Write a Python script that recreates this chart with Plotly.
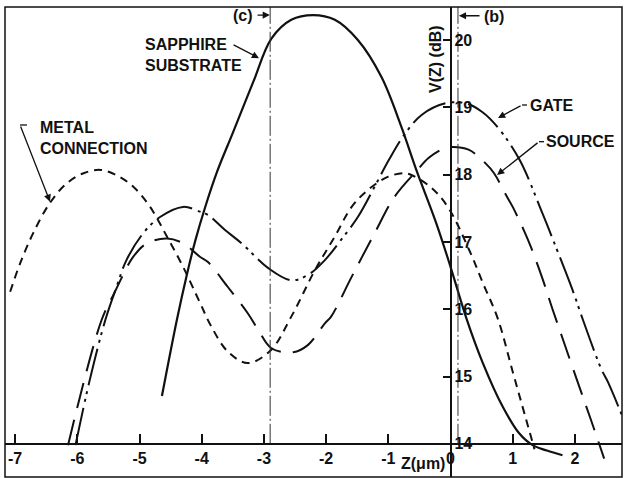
import plotly.graph_objects as go

# ---------------- data ----------------
sapphire_z = [-4.64, -4.40, -4.24, -4.10, -3.95, -3.75, -3.50, -3.17, -2.88, -2.56, -2.21,
              -1.86, -1.49, -1.11, -0.79, -0.55, -0.23, 0.00, 0.25, 0.52, 0.84, 1.10, 1.32, 1.55, 1.80]
sapphire_v = [14.71, 15.84, 16.51, 17.03, 17.50, 18.05, 18.62, 19.38, 20.02, 20.30, 20.37,
              20.30, 20.00, 19.45, 18.71, 18.07, 17.28, 16.63, 15.88, 15.20, 14.55, 14.16, 13.98, 13.90, 13.83]

metal_z = [-7.08, -6.92, -6.71, -6.44, -6.17, -5.90, -5.63, -5.37, -5.10, -4.83, -4.56, -4.30,
           -4.03, -3.85, -3.58, -3.26, -2.89, -2.56, -2.18, -1.86, -1.59, -1.33, -1.00, -0.74,
           -0.62, -0.30, -0.03, 0.30, 0.52, 0.76, 1.00, 1.21, 1.35]
metal_v = [16.26, 16.68, 17.13, 17.58, 17.87, 18.02, 18.07, 17.99, 17.82, 17.52, 17.08, 16.63,
           16.10, 15.75, 15.37, 15.20, 15.39, 15.89, 16.58, 17.08, 17.52, 17.77, 17.97, 18.02,
           17.99, 17.80, 17.50, 16.88, 16.39, 15.86, 15.07, 14.38, 13.92]

gate_z = [-6.03, -5.80, -5.55, -5.37, -5.21, -4.94, -4.67, -4.30, -4.03, -3.90, -3.63, -3.36,
          -2.93, -2.56, -2.29, -2.02, -1.76, -1.49, -1.22, -0.99, -0.73, -0.46, -0.08, 0.24,
          0.51, 0.77, 1.11, 1.48, 1.67, 1.96, 2.13, 2.42, 2.53, 2.79]
gate_v = [13.98, 14.95, 15.84, 16.33, 16.73, 17.13, 17.37, 17.52, 17.45, 17.40, 17.18, 16.98,
          16.61, 16.43, 16.51, 16.73, 17.03, 17.37, 17.82, 18.22, 18.61, 18.89, 19.06, 19.06,
          18.93, 18.69, 18.22, 17.42, 16.98, 16.29, 15.84, 15.12, 14.92, 14.35]

source_z = [-6.15, -5.61, -5.40, -5.10, -4.88, -4.56, -4.30, -4.03, -3.90, -3.58, -3.26, -3.09,
            -2.88, -2.53, -2.29, -2.02, -1.92, -1.59, -1.22, -0.90, -0.55, -0.35, -0.13, 0.00,
            0.29, 0.56, 0.70, 0.89, 1.00, 1.19, 1.29, 1.48, 1.64, 1.83, 2.07, 2.26, 2.47]
source_v = [13.98, 15.84, 16.25, 16.78, 16.98, 17.05, 16.98, 16.78, 16.70, 16.33, 15.94, 15.69,
            15.42, 15.36, 15.47, 15.79, 15.89, 16.48, 17.13, 17.67, 18.05, 18.25, 18.38, 18.41,
            18.37, 18.17, 18.02, 17.70, 17.52, 17.15, 16.93, 16.45, 16.00, 15.49, 14.85, 14.35, 13.78]

marker_c_z = -2.90   # vertical reference line (c)
marker_b_z = 0.12    # vertical reference line (b)

x_tick_vals = [-7, -6, -5, -4, -3, -2, -1, 0, 1, 2]
x_tick_text = ["-7", "-6", "-5", "-4", "-3", "-2", "-1", "0", "1", "2"]
y_tick_vals = [14, 15, 16, 17, 18, 19, 20]
y_tick_text = ["14", "15", "16", "17", "18", "19", "20"]

# ---------------- figure ----------------
X_RANGE = [-7.163, 2.757]
Y_RANGE = [13.507, 20.49]
FONT = "Liberation Sans, Arial, sans-serif"
INK = "#111111"

fig = go.Figure()

def add_curve(z, v, dash, width=2.0):
    fig.add_trace(go.Scatter(x=z, y=v, mode="lines", line_shape="spline",
                             line=dict(color=INK, width=width, dash=dash),
                             hoverinfo="skip", showlegend=False))

add_curve(sapphire_z, sapphire_v, "solid", 2.2)
add_curve(metal_z, metal_v, "8px,6px", 2.0)
add_curve(gate_z, gate_v, "38px,6px,3px,5px,3px,6px", 2.0)
add_curve(source_z, source_v, "26px,12px", 2.0)

for zc in (marker_c_z, marker_b_z):
    fig.add_trace(go.Scatter(x=[zc, zc], y=[14, Y_RANGE[1]], mode="lines",
                             line=dict(color="#333333", width=1, dash="20px,3px,2px,3px"),
                             hoverinfo="skip", showlegend=False))

xpos = (14 - Y_RANGE[0]) / (Y_RANGE[1] - Y_RANGE[0])
ypos = (0 - X_RANGE[0]) / (X_RANGE[1] - X_RANGE[0])

tickfont = dict(family=FONT, size=16, color=INK, weight="bold")

fig.update_layout(
    width=624, height=478,
    margin=dict(l=5, r=2, t=7, b=1),
    paper_bgcolor="white", plot_bgcolor="white",
    font=dict(family=FONT, size=16, color=INK),
    xaxis=dict(range=X_RANGE, anchor="free", position=xpos, tickvals=x_tick_vals,
               ticktext=x_tick_text, ticks="inside", ticklen=9, tickwidth=1.5,
               tickcolor=INK, showline=True, linecolor=INK, linewidth=1.5,
               showgrid=False, zeroline=False, tickfont=tickfont),
    yaxis=dict(range=Y_RANGE, anchor="free", position=ypos, side="right",
               tickvals=y_tick_vals, ticktext=y_tick_text, ticks="inside", ticklen=7,
               tickwidth=1.5, tickcolor=INK, showline=True, linecolor=INK, linewidth=1.5,
               showgrid=False, zeroline=False, tickfont=tickfont),
)

# frame
fig.add_shape(type="rect", xref="paper", yref="paper", x0=0, y0=0, x1=1, y1=1,
              line=dict(color=INK, width=1.5))

def label(text, x, y, xanchor="left", size=16, angle=0):
    fig.add_annotation(x=x, y=y, text=text, showarrow=False, xanchor=xanchor,
                       yanchor="middle", align="left", textangle=angle,
                       font=dict(family=FONT, size=size, color=INK, weight="bold"))

def arrow(x0, y0, x1, y1):
    fig.add_annotation(x=x1, y=y1, ax=x0, ay=y0, xref="x", yref="y", axref="x", ayref="y",
                       text="", showarrow=True, arrowhead=2, arrowsize=1.1,
                       arrowwidth=1.3, arrowcolor=INK)

def stub(x0, x1, y):
    fig.add_shape(type="line", x0=x0, x1=x1, y0=y, y1=y, line=dict(color=INK, width=1.3))

label("SAPPHIRE<br>SUBSTRATE", -4.944, 19.777)
arrow(-3.512, 19.94, -3.079, 19.73)

label("METAL<br>CONNECTION", -6.632, 18.551)
stub(-6.921, -6.809, 18.737)
arrow(-6.921, 18.737, -6.439, 17.597)

label("GATE", 1.246, 19.034)
stub(1.150, 1.230, 19.034)
arrow(1.150, 19.034, 0.764, 18.841)

label("SOURCE", 1.503, 18.489)
stub(1.423, 1.503, 18.489)
arrow(1.423, 18.489, 0.748, 17.994)

label("(c)", -3.336, 20.371, xanchor="center")
arrow(-3.127, 20.37, -2.905, 20.37)
label("(b)", 0.691, 20.342, xanchor="center")
arrow(0.490, 20.36, 0.135, 20.36)

label("V(Z) (dB)", -0.233, 19.718, xanchor="center", size=16, angle=-90)
label("Z(\u03bcm)", -0.442, 13.715, xanchor="center", size=16)

fig.write_html("out.html")
